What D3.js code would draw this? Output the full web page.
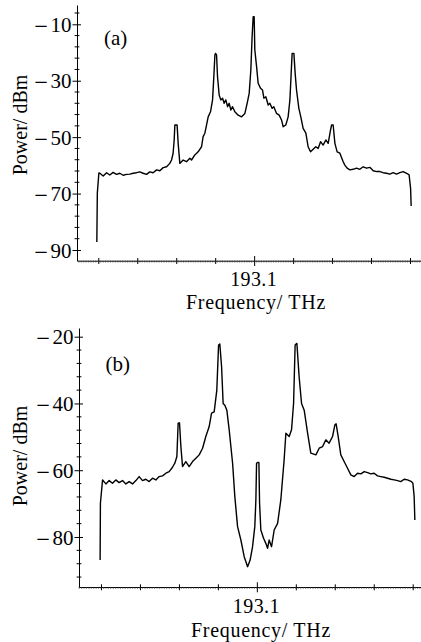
<!DOCTYPE html>
<html>
<head>
<meta charset="utf-8">
<script src="https://cdn.jsdelivr.net/npm/d3@7/dist/d3.min.js"></script>
<style>
  html, body { margin: 0; padding: 0; background: #fff; }
  svg { display: block; }
  text { font-family: "Liberation Serif", "DejaVu Serif", serif; fill: #000; }
</style>
</head>
<body>
<svg id="chart" width="421" height="642"></svg>
<script>
// ---------------- data ----------------
const xTickValues = [192.94, 192.98, 193.02, 193.06, 193.1, 193.14, 193.18, 193.22, 193.26];
const xTickLabels = ["", "", "", "", "193.1", "", "", "", ""];
const yTicksA = [-10, -30, -50, -70, -90];
const yTicksB = [-20, -40, -60, -80];
const panelLabels = ["(a)", "(b)"];
const xTitle = "Frequency/ THz";
const yTitle = "Power/ dBm";

const freqA = [192.9385,192.9390,192.9406,192.9416,192.9450,192.9485,192.9518,192.9552,192.9587,192.9621,192.9655,192.9690,192.9724,192.9758,192.9793,192.9826,192.9860,192.9895,192.9929,192.9963,192.9998,193.0032,193.0066,193.0101,193.0134,193.0152,193.0168,193.0179,193.0186,193.0196,193.0209,193.0220,193.0237,193.0271,193.0306,193.0340,193.0357,193.0391,193.0425,193.0460,193.0476,193.0494,193.0511,193.0528,193.0552,193.0573,193.0586,193.0597,193.0604,193.0614,193.0624,193.0641,193.0658,193.0676,193.0692,193.0709,193.0727,193.0743,193.0761,193.0778,193.0802,193.0836,193.0871,193.0905,193.0928,193.0949,193.0966,193.0979,193.0990,193.1000,193.1007,193.1025,193.1041,193.1066,193.1086,193.1100,193.1120,193.1144,193.1161,193.1185,193.1202,193.1230,193.1257,193.1281,193.1298,193.1325,193.1349,193.1367,193.1380,193.1390,193.1408,193.1421,193.1435,193.1459,193.1479,193.1503,193.1531,193.1554,193.1579,193.1606,193.1633,193.1657,193.1682,193.1708,193.1736,193.1760,193.1784,193.1795,193.1811,193.1829,193.1852,193.1880,193.1914,193.1931,193.1955,193.1983,193.2016,193.2051,193.2085,193.2119,193.2154,193.2188,193.2222,193.2257,193.2291,193.2324,193.2359,193.2393,193.2427,193.2462,193.2496,193.2530,193.2565,193.2591,193.2606,193.2612];
const powerA = [-87.2,-69.8,-62.7,-62.8,-63.8,-62.6,-63.4,-62.5,-63.2,-62.8,-63.5,-63.2,-63.1,-62.8,-62.6,-62.3,-62.8,-63.2,-62.3,-62.6,-61.6,-61.9,-60.8,-60.5,-59.3,-58.1,-55.7,-51.0,-45.7,-45.7,-45.7,-52.2,-59.3,-58.1,-58.7,-57.5,-58.1,-56.3,-55.2,-53.4,-49.8,-48.6,-45.7,-42.8,-41.0,-36.8,-28.6,-20.9,-20.3,-20.9,-28.6,-35.1,-36.8,-36.2,-38.0,-36.8,-39.2,-38.0,-40.4,-39.2,-41.0,-42.2,-42.8,-41.6,-38.0,-34.5,-26.2,-14.4,-7.3,-7.3,-19.1,-25.0,-30.9,-32.7,-33.3,-36.2,-35.7,-38.6,-38.0,-39.8,-39.2,-41.6,-42.2,-43.9,-46.3,-45.7,-42.8,-36.8,-27.4,-20.3,-20.3,-27.4,-33.3,-39.8,-42.8,-46.9,-48.6,-53.4,-55.2,-54.3,-53.4,-54.0,-51.6,-52.8,-51.0,-52.2,-47.5,-45.7,-45.7,-52.2,-55.2,-55.7,-58.7,-59.9,-61.0,-61.6,-61.4,-61.0,-61.4,-60.5,-61.0,-60.7,-61.9,-62.2,-62.2,-62.6,-62.8,-63.1,-62.6,-63.1,-62.6,-62.2,-62.8,-63.4,-68.1,-74.4];

const freqB = [192.9391,192.9394,192.9416,192.9450,192.9484,192.9518,192.9552,192.9586,192.9621,192.9655,192.9689,192.9724,192.9758,192.9792,192.9826,192.9860,192.9894,192.9929,192.9963,192.9997,193.0032,193.0066,193.0100,193.0134,193.0158,193.0179,193.0192,193.0206,193.0220,193.0237,193.0271,193.0305,193.0340,193.0374,193.0408,193.0443,193.0476,193.0510,193.0535,193.0562,193.0589,193.0607,193.0620,193.0638,193.0654,193.0671,193.0692,193.0716,193.0751,193.0774,193.0802,193.0836,193.0870,193.0905,193.0931,193.0956,193.0979,193.0990,193.0997,193.1007,193.1021,193.1028,193.1041,193.1069,193.1092,193.1110,193.1126,193.1151,193.1178,193.1213,193.1246,193.1280,193.1298,193.1332,193.1356,193.1377,193.1393,193.1411,193.1434,193.1459,193.1486,193.1521,193.1554,193.1606,193.1640,193.1675,193.1708,193.1742,193.1777,193.1801,193.1814,193.1835,193.1862,193.1896,193.1931,193.1965,193.1999,193.2034,193.2068,193.2102,193.2137,193.2170,193.2204,193.2239,193.2273,193.2307,193.2342,193.2376,193.2410,193.2445,193.2478,193.2512,193.2547,193.2588,193.2602,193.2615,193.2622];
const powerB = [-86.9,-69.9,-62.9,-64.1,-63.1,-63.9,-62.9,-63.7,-63.1,-64.1,-63.4,-64.1,-63.1,-61.9,-63.1,-62.7,-63.4,-62.4,-62.9,-61.9,-61.7,-60.9,-60.4,-59.1,-57.9,-55.9,-45.9,-45.8,-52.9,-58.9,-57.4,-58.9,-57.4,-56.4,-55.4,-53.4,-49.9,-47.0,-42.9,-42.5,-36.0,-22.5,-22.2,-29.0,-40.0,-40.5,-42.0,-47.9,-57.9,-67.9,-76.9,-80.9,-85.9,-88.9,-86.9,-82.9,-76.9,-68.9,-57.9,-57.7,-57.7,-69.9,-77.9,-80.4,-81.9,-83.4,-80.9,-82.9,-77.9,-75.9,-68.9,-56.9,-48.9,-49.9,-47.9,-40.0,-22.5,-22.0,-32.0,-40.0,-42.0,-48.9,-54.9,-55.4,-53.4,-52.9,-50.9,-51.9,-49.9,-46.4,-46.1,-49.9,-55.4,-57.4,-59.4,-61.4,-61.9,-60.9,-61.1,-60.4,-60.7,-61.1,-60.9,-61.7,-61.9,-62.1,-62.4,-62.7,-62.9,-63.1,-63.4,-62.7,-62.9,-63.4,-63.9,-67.9,-74.9];

// ---------------- layout ----------------
const SERIF = '"Liberation Serif", "DejaVu Serif", serif';
const svg = d3.select("#chart");
svg.append("rect").attr("width", 421).attr("height", 642).attr("fill", "#fff");

const panels = [
  { freq: freqA, power: powerA, yTicks: yTicksA, label: panelLabels[0],
    axisX: 77, xRight: 421, tickFirstPx: 98.3, tickLastPx: 410.0,
    yRefVals: [-10, -90], yRefPx: [24.3, 250], yTop: 5, yBottom: 260.7,
    labelPos: [104, 44.5], yTitleCenter: 125, xTickLabelDy: 25.8, xTitleY: 309.2, xTitleX: 256 },
  { freq: freqB, power: powerB, yTicks: yTicksB, label: panelLabels[1],
    axisX: 79, xRight: 421, tickFirstPx: 101, tickLastPx: 412.7,
    yRefVals: [-20, -80], yRefPx: [336.7, 537], yTop: 328, yBottom: 587,
    labelPos: [105.5, 370.5], yTitleCenter: 456, xTickLabelDy: 26, xTitleY: 637, xTitleX: 261 }
];

panels.forEach(p => {
  const g = svg.append("g");

  const x0 = d3.scaleLinear().domain([xTickValues[0], xTickValues[xTickValues.length - 1]])
    .range([p.tickFirstPx, p.tickLastPx]);
  const x = d3.scaleLinear().domain([x0.invert(p.axisX), x0.invert(p.xRight)]).range([p.axisX, p.xRight]);

  const y0 = d3.scaleLinear().domain(p.yRefVals).range(p.yRefPx);
  const y = d3.scaleLinear().domain([y0.invert(p.yBottom), y0.invert(p.yTop)]).range([p.yBottom, p.yTop]);

  // ---- x axis ----
  const xAxisG = g.append("g").attr("transform", `translate(0,${p.yBottom})`)
    .call(d3.axisBottom(x).tickValues(xTickValues)
      .tickFormat((d, i) => xTickLabels[i]).tickSizeOuter(0).tickSizeInner(3.3).tickPadding(0));
  xAxisG.select(".domain").attr("stroke", "#000").attr("stroke-width", 1);
  xAxisG.selectAll(".tick line").attr("stroke", "#000").attr("stroke-width", 1)
    .attr("y1", d => d === 193.1 ? -4.7 : -2.7)
    .attr("y2", d => d === 193.1 ? 5.3 : 3.3);
  xAxisG.selectAll(".tick text")
    .attr("y", p.xTickLabelDy).attr("dy", 0).attr("x", -1)
    .style("font-family", SERIF).style("font-size", "20px").style("letter-spacing", "0.4px");

  // dense minor ticks along the x axis
  const xDom = x.domain();
  const minorStep = 0.0025;
  const minorX = d3.range(Math.ceil(xDom[0] / minorStep) * minorStep, xDom[1], minorStep);
  g.append("g").selectAll("line").data(minorX).join("line")
    .attr("x1", d => x(d)).attr("x2", d => x(d))
    .attr("y1", p.yBottom).attr("y2", p.yBottom + 1.8)
    .attr("stroke", "#333").attr("stroke-width", 0.7);

  // ---- y axis ----
  const yAxisG = g.append("g").attr("transform", `translate(${p.axisX},0)`)
    .call(d3.axisLeft(y).tickValues(p.yTicks).tickSizeOuter(0).tickSizeInner(4.5).tickPadding(6));
  yAxisG.select(".domain").attr("stroke", "#000").attr("stroke-width", 1);
  yAxisG.selectAll(".tick line").attr("stroke", "#000").attr("stroke-width", 1)
    .attr("x1", 4).attr("x2", -4.5);
  yAxisG.selectAll(".tick text").each(function (d) {
    const t = d3.select(this);
    t.text(null).attr("x", -5.5).attr("dy", "0.34em").attr("text-anchor", "end")
      .style("font-family", SERIF).style("font-size", "21px");
    t.append("tspan").style("font-family", '"DejaVu Serif", serif').style("font-size", "18px").text("\u2212");
    t.append("tspan").attr("dx", 2).text(Math.abs(d));
  });

  // minor y ticks every 4 dBm
  const yDom = y.domain();
  const base = p.yTicks[0];
  const minorY = d3.range(-120, 0, 2)
    .filter(v => v >= yDom[0] && v <= yDom[1] && !p.yTicks.includes(v) && ((v - base) % 4 === 0));
  g.append("g").selectAll("line").data(minorY).join("line")
    .attr("x1", p.axisX - 2.4).attr("x2", p.axisX + 2.4)
    .attr("y1", d => y(d)).attr("y2", d => y(d))
    .attr("stroke", "#000").attr("stroke-width", 1);

  // ---- spectrum trace ----
  const pts = p.freq.map((f, i) => [f, p.power[i]]);
  g.append("path").datum(pts)
    .attr("fill", "none").attr("stroke", "#000").attr("stroke-width", 1.4)
    .attr("stroke-linejoin", "round")
    .attr("d", d3.line().x(d => x(d[0])).y(d => y(d[1])));

  // ---- labels ----
  g.append("text").attr("x", p.labelPos[0]).attr("y", p.labelPos[1])
    .style("font-family", SERIF).style("font-size", "21px").text(p.label);

  g.append("text").attr("x", p.xTitleX).attr("y", p.xTitleY)
    .attr("text-anchor", "middle")
    .style("font-family", SERIF).style("font-size", "20px").style("letter-spacing", "0.7px")
    .text(xTitle);

  g.append("text")
    .attr("transform", `translate(26.7,${p.yTitleCenter}) rotate(-90)`)
    .attr("text-anchor", "middle")
    .style("font-family", SERIF).style("font-size", "20px").text(yTitle);
});
</script>
</body>
</html>
